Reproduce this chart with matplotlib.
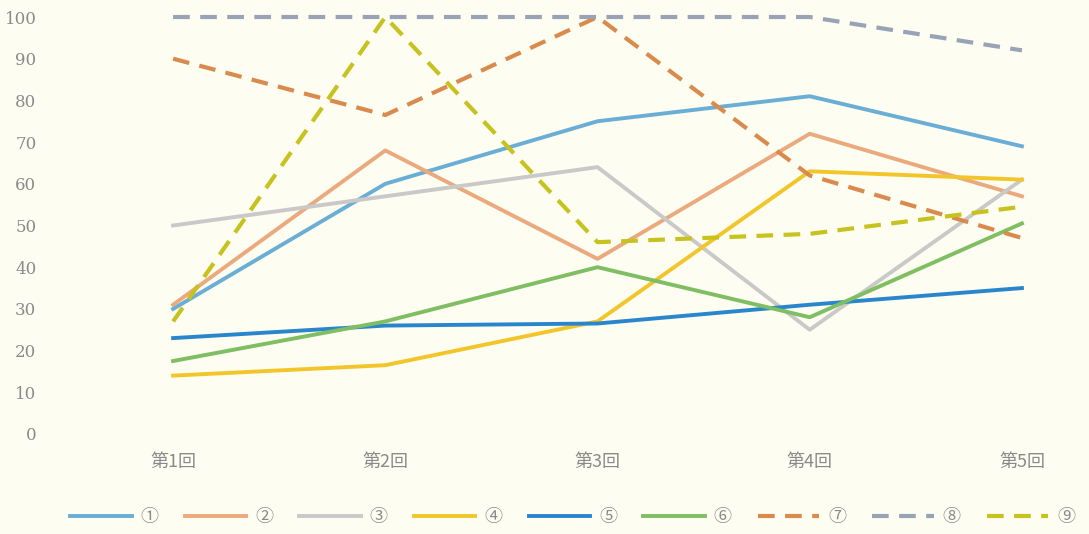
import matplotlib
matplotlib.use("Agg")
import matplotlib.pyplot as plt

plt.rcParams['font.family'] = ['Noto Sans CJK JP', 'DejaVu Sans']

rounds = ['第1回', '第2回', '第3回', '第4回', '第5回']
labels = ['①', '②', '③', '④', '⑤', '⑥', '⑦', '⑧', '⑨']

s1 = [30, 60, 75, 81, 69]
s2 = [31, 68, 42, 72, 57]
s3 = [50, 57, 64, 25, 61]
s4 = [14, 16.5, 27, 63, 61]
s5 = [23, 26, 26.5, 31, 35]
s6 = [17.5, 27, 40, 28, 50.5]
s7 = [90, 76.5, 100, 62, 47]
s8 = [100, 100, 100, 100, 92]
s9 = [27, 100, 46, 48, 54.5]
series = [s1, s2, s3, s4, s5, s6, s7, s8, s9]

colors = ['#6aaed6', '#eba97e', '#c9c9c9', '#f2c62a', '#2a86cc',
          '#7fbe62', '#d98b4e', '#98a3b6', '#c8c21e']
styles = ['-'] * 6 + ['--'] * 3

bg = '#fdfdf1'
fig = plt.figure(figsize=(10.89, 5.34), dpi=100, facecolor=bg)
ax = fig.add_axes([67 / 1089, 100 / 534, 1 - 67 / 1089, 417 / 534])
ax.set_facecolor(bg)

x = range(len(rounds))
for vals, c, ls, lab in zip(series, colors, styles, labels):
    if ls == '--':
        ax.plot(x, vals, color=c, lw=3, ls=ls, dashes=(4, 2.5), label=lab,
                clip_on=False)
    else:
        ax.plot(x, vals, color=c, lw=2.8, ls=ls, label=lab, clip_on=False)

ax.set_xlim(-0.5, 4.316)
ax.set_ylim(0, 100)
ax.set_yticks(range(0, 101, 10))
ax.set_xticks(list(x))
ax.set_xticklabels(rounds, fontsize=13)
for sp in ax.spines.values():
    sp.set_visible(False)
ax.tick_params(axis='both', length=0, colors='#8a8a8a')
ax.tick_params(axis='y', pad=22, labelsize=12)
ax.tick_params(axis='x', pad=14)
for t in ax.get_yticklabels():
    t.set_family(['DejaVu Serif'])

fig.legend(loc='center', bbox_to_anchor=(0.526, 0.032), ncol=9, frameon=False,
           fontsize=13, handlelength=3.4, columnspacing=1.45, handletextpad=0.5,
           labelcolor='#8a8a8a')

fig.savefig('out.png', dpi=100, facecolor=bg)
